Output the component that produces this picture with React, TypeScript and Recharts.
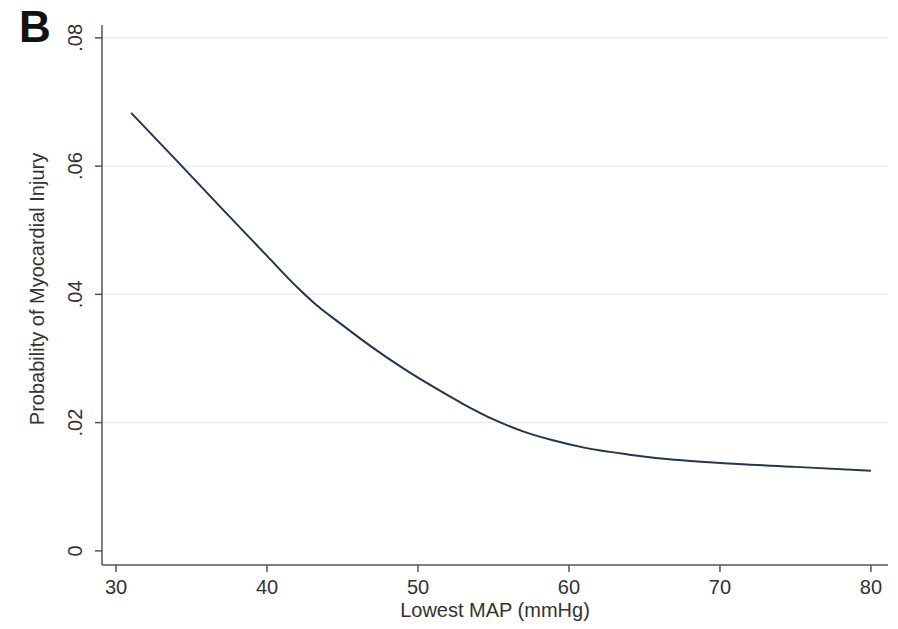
import { LineChart, Line, XAxis, YAxis, ReferenceLine, Label } from "recharts";

const mapValues = [31, 34, 37, 40, 42, 43, 45, 47, 49, 51, 53, 55, 57, 59, 61, 64, 67, 70, 75, 80];
const injuryProb = [
  0.0683, 0.0609, 0.0534, 0.046, 0.0411, 0.0389, 0.0352, 0.0317, 0.0285, 0.0256,
  0.0229, 0.0205, 0.0186, 0.0172, 0.0161, 0.015, 0.0142, 0.0137, 0.0131, 0.0125,
];
const xTicks = [30, 40, 50, 60, 70, 80];
const yTicks = [0, 0.02, 0.04, 0.06, 0.08];
const yTickLabels = ["0", ".02", ".04", ".06", ".08"];
const gridValues = [0.02, 0.04, 0.06, 0.08];

const data = mapValues.map((m, i) => ({ map: m, prob: injuryProb[i] }));

const font = "'Liberation Sans', Arial, sans-serif";

function YTick(props: any) {
  const { x, y, payload } = props;
  const idx = yTicks.indexOf(payload.value);
  return (
    <text
      x={x - 18}
      y={y}
      transform={`rotate(-90 ${x - 18} ${y})`}
      textAnchor="middle"
      dominantBaseline="central"
      fontSize={20}
      fontFamily={font}
      fill="#333"
    >
      {idx >= 0 ? yTickLabels[idx] : payload.value}
    </text>
  );
}

export default function App() {
  return (
    <div style={{ position: "absolute", left: 0, top: 0, width: 898, height: 629, background: "#fff" }}>
      <div
        style={{
          position: "absolute",
          left: 19,
          top: 2,
          fontFamily: font,
          fontWeight: "bold",
          fontSize: 44,
          color: "#111",
        }}
      >
        B
      </div>
      <LineChart width={898} height={629} data={data} margin={{ top: 25, right: 10, left: 0, bottom: 0 }}>
        {gridValues.map((g) => (
          <ReferenceLine key={g} y={g} stroke="#ececec" strokeWidth={1.5} />
        ))}
        <XAxis
          dataKey="map"
          type="number"
          domain={[29.07, 81.13]}
          ticks={xTicks}
          allowDataOverflow
          height={64}
          tickSize={7}
          tickMargin={8}
          stroke="#555"
          strokeWidth={1.5}
          tick={{ fontSize: 20, fontFamily: font, fill: "#333" }}
        >
          <Label
            value="Lowest MAP (mmHg)"
            position="insideBottom"
            offset={12}
            style={{ fontSize: 20, fontFamily: font, fill: "#333" }}
          />
        </XAxis>
        <YAxis
          type="number"
          domain={[-0.0022, 0.082]}
          ticks={yTicks}
          allowDataOverflow
          width={102}
          tickSize={7}
          stroke="#555"
          strokeWidth={1.5}
          tick={<YTick />}
        >
          <Label
            value="Probability of Myocardial Injury"
            angle={-90}
            position="insideLeft"
            offset={37}
            dy={-6}
            style={{ fontSize: 20, fontFamily: font, fill: "#333", textAnchor: "middle" }}
          />
        </YAxis>
        <Line
          dataKey="prob"
          type="monotone"
          stroke="#23364f"
          strokeWidth={2}
          dot={false}
          isAnimationActive={false}
        />
      </LineChart>
    </div>
  );
}
